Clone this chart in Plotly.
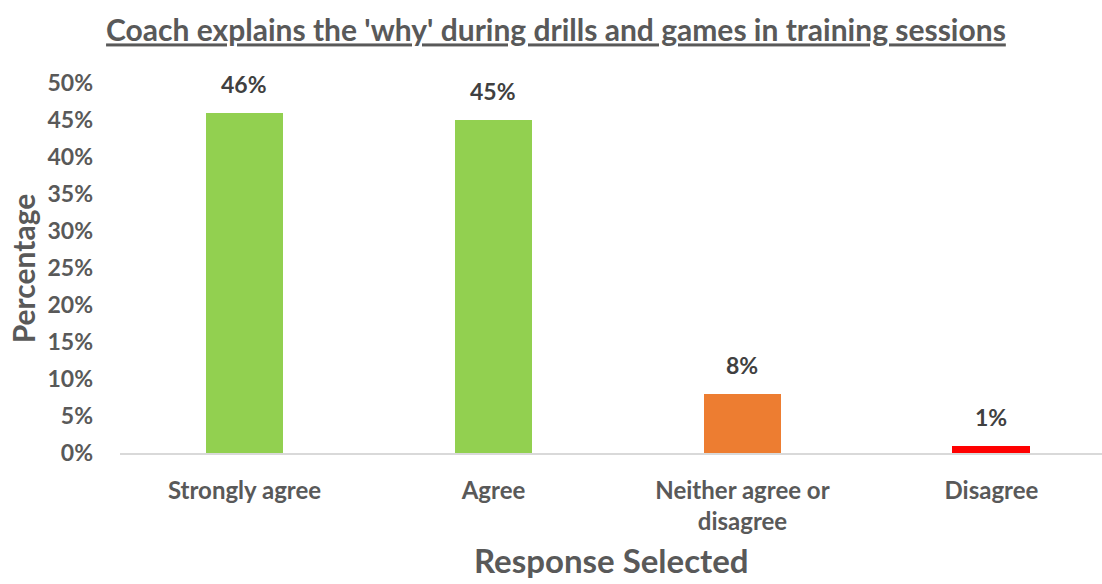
import plotly.graph_objects as go

# Survey responses
categories = ["Strongly agree", "Agree", "Neither agree or<br>disagree", "Disagree"]
percentages = [0.46, 0.45, 0.08, 0.01]
bar_colors = ["#92D050", "#92D050", "#ED7D31", "#FF0000"]
y_ticks = [0, 0.05, 0.10, 0.15, 0.20, 0.25, 0.30, 0.35, 0.40, 0.45, 0.50]

FONT = "Lato"
GRAY = "#595959"
LABEL_GRAY = "#404040"

x_pos = list(range(len(categories)))

fig = go.Figure(
    go.Bar(
        x=x_pos,
        y=percentages,
        marker=dict(color=bar_colors, line=dict(width=0)),
        width=0.313,
        hoverinfo="skip",
    )
)

# value labels floating above each bar
for xp, v in zip(x_pos, percentages):
    fig.add_annotation(
        x=xp, y=v, xref="x", yref="y",
        text=f"{round(v * 100)}%",
        showarrow=False,
        yanchor="bottom",
        yshift=13,
        font=dict(family=FONT, size=23, color=LABEL_GRAY, weight="bold"),
    )

# axis titles
fig.add_annotation(
    x=-0.0985, y=0.5, xref="paper", yref="paper",
    text="Percentage", textangle=-90,
    showarrow=False, xanchor="center", yanchor="middle",
    font=dict(family=FONT, size=30, color=GRAY, weight="bold"),
)
fig.add_annotation(
    x=0.5, y=-0.29, xref="paper", yref="paper",
    text="Response Selected",
    showarrow=False, xanchor="center", yanchor="middle",
    font=dict(family=FONT, size=33, color=GRAY, weight="bold"),
)

fig.update_layout(
    width=1102,
    height=584,
    margin=dict(l=120, r=0, t=83, b=131),
    paper_bgcolor="white",
    plot_bgcolor="white",
    showlegend=False,
    title=dict(
        text="Coach explains the 'why' during drills and games in training sessions",
        x=0.5045,
        xanchor="center",
        y=0.947,
        yanchor="middle",
        font=dict(family=FONT, size=30, color=GRAY, weight="bold", lineposition="under"),
    ),
    xaxis=dict(
        tickmode="array",
        tickvals=x_pos,
        ticktext=categories,
        range=[-0.5, 3.444],
        showgrid=False,
        showline=True,
        linecolor="#D9D9D9",
        linewidth=2,
        ticks="",
        ticklabelstandoff=15,
        tickfont=dict(family=FONT, size=24, color=GRAY, weight="bold"),
        zeroline=False,
    ),
    yaxis=dict(
        range=[0, 0.5],
        tickvals=y_ticks,
        tickformat=".0%",
        showgrid=False,
        zeroline=False,
        showline=False,
        ticks="",
        ticklabelstandoff=26,
        tickfont=dict(family=FONT, size=23, color=GRAY, weight="bold"),
    ),
    bargap=0,
)

fig.write_html("out.html")
